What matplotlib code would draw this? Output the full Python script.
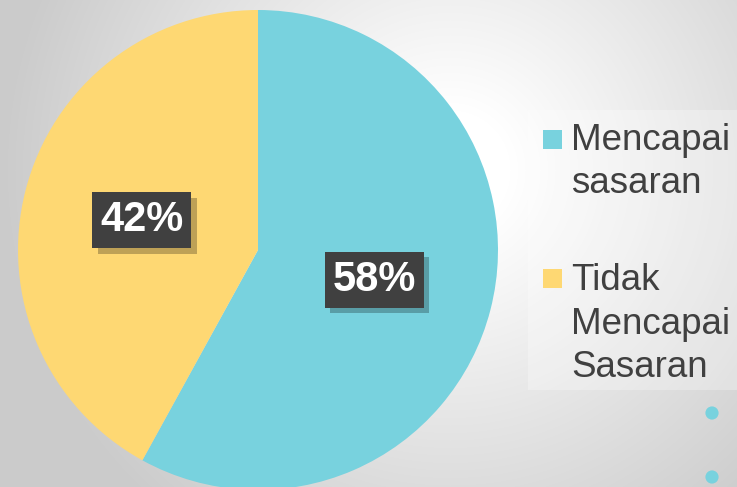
import numpy as np
import matplotlib
matplotlib.use("Agg")
import matplotlib.pyplot as plt
import matplotlib.patheffects as pe
from matplotlib.patches import Rectangle

labels = ["Mencapai\nsasaran", "Tidak\nMencapai\nSasaran"]
values = [58, 42]
colors = ["#78D2DE", "#FED873"]

W, H = 737, 487
fig = plt.figure(figsize=(W / 100, H / 100), dpi=100)
ax = fig.add_axes([0, 0, 1, 1])

# background gradient
yy, xx = np.mgrid[0:H, 0:W]
d = np.hypot(xx - 450, yy - 170)
v = 255 - 52 * np.clip((d - 60) / 390, 0, 1)
img = np.dstack([v, v, v]) / 255.0
ax.imshow(img, extent=(0, W, 0, H), origin="upper", zorder=0, aspect="auto")

wedges, texts, autotexts = ax.pie(
    values, colors=colors, startangle=90, counterclock=False,
    center=(258, H - 250), radius=240, autopct="%.0f%%", pctdistance=0.5,
    wedgeprops=dict(linewidth=0), frame=True,
    textprops=dict(color="white", fontsize=30, fontweight="bold",
                   family="Liberation Sans"))
for t in autotexts:
    t.set_bbox(dict(boxstyle="square,pad=0.19", facecolor="#404040",
                    edgecolor="none"))
    t.get_bbox_patch().set_path_effects(
        [pe.SimplePatchShadow(offset=(4, -4), shadow_rgbFace="black", alpha=0.25),
         pe.Normal()])

ax.set_xlim(0, W)
ax.set_ylim(0, H)
ax.set_aspect("auto")
ax.axis("off")

# decorative dots
ax.scatter([712, 712], [H - 413, H - 477], s=90, color="#78D2DE",
           edgecolors="none", zorder=3)

# legend (drawn by hand so the marker sits on the first line)
ax.add_patch(Rectangle((528, H - 390), W - 528, 280, facecolor="white",
                       edgecolor="none", alpha=0.28, zorder=2))
legend_tops = [130, 269]
legend_last_baselines = [193, 377]
for lab, col, top, base in zip(labels, colors, legend_tops, legend_last_baselines):
    ax.add_patch(Rectangle((543, H - top - 19), 19, 19, facecolor=col,
                           edgecolor="none", zorder=3))
    ax.text(571, H - base, lab, fontsize=26.5, family="Liberation Sans",
            color="#404040", va="baseline", ha="left", linespacing=1.31,
            zorder=3)

fig.savefig("out.png", dpi=100)
